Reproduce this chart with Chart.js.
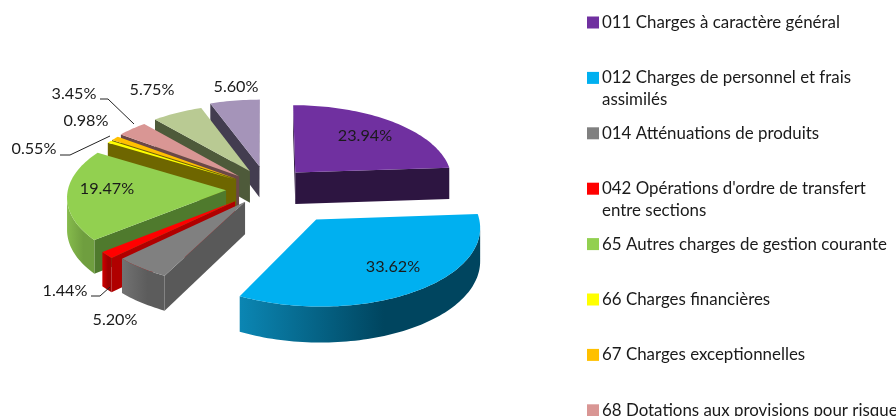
<!DOCTYPE html>
<html lang="fr">
<head>
<meta charset="utf-8">
<title>Charges</title>
<script src="https://cdn.jsdelivr.net/npm/chart.js@4"></script>
<style>
  html, body { margin: 0; padding: 0; background: #fff; overflow: hidden; }
  #wrap { position: relative; width: 896px; height: 416px; }
</style>
</head>
<body>
<div id="wrap"><canvas id="chart-charges" width="896" height="416"></canvas></div>
<script>
const categories = [
  "011 Charges à caractère général",
  "012 Charges de personnel et frais assimilés",
  "014 Atténuations de produits",
  "042 Opérations d'ordre de transfert entre sections",
  "65 Autres charges de gestion courante",
  "66 Charges financières",
  "67 Charges exceptionnelles",
  "68 Dotations aux provisions pour risques",
  "Autres charges A",
  "Autres charges B",
];
const shares = [23.94, 33.62, 5.2, 1.44, 19.47, 0.55, 0.98, 3.45, 5.75, 5.6];

// couleurs : dessus, flanc radial, bord extérieur (gauche / droite)
const topColors = ["#7030a0", "#00b0f0", "#808080", "#ff0000", "#92d050", "#ffff00", "#ffc000", "#d99694", "#b9ca93", "#a594b9"];
const sideColors = ["#2d1541", "#00465f", "#595959", "#b00000", "#4f7a2d", "#6e6600", "#6e6600", "#6b4847", "#4e5a3a", "#433d50"];
const rimLeft = ["#2d1541", "#0b86b3", "#727272", "#d00000", "#86bb4c", "#808000", "#997300", "#a07070", "#8a9a6a", "#776a88"];
const rimRight = ["#2d1541", "#00455f", "#5c5c5c", "#a00000", "#6f9e3f", "#808000", "#997300", "#a07070", "#8a9a6a", "#776a88"];

const sliceOffsets = [48, 74, 33, 38, 38, 38, 38, 40, 44, 50];
// décalage horizontal en plus de l'éclatement
const sliceShiftX = [-3, 8, -1, -2, -2, 1, 1, 2, 6, 2];

// tableau de légende : lignes coupées comme sur l'original
const legendLines = [
  ["011 Charges à caractère général"],
  ["012 Charges de personnel et frais", "assimilés"],
  ["014 Atténuations de produits"],
  ["042 Opérations d'ordre de transfert", "entre sections"],
  ["65 Autres charges de gestion courante"],
  ["66 Charges financières"],
  ["67 Charges exceptionnelles"],
  ["68 Dotations aux provisions pour risques"],
];

const LABEL_FONT = '16.2px Lato, "Open Sans", sans-serif';
const LEGEND_FONT = '16.9px Lato, "Open Sans", sans-serif';
const TILT = 0.476;
const PERSP = 0.0005;
const DEPTH = 32;

// emplacement des étiquettes [x, y] (centre du texte)
const labelSpots = [
  [365, 136], [393, 267], [115, 320], [65, 291], [107, 189],
  [34, 149], [86, 121], [74, 94], [152, 90], [236, 87],
];
const leaders = {
  3: [[91, 296], [100, 296], [110, 287]],
  5: [[60, 155], [70, 155], [110, 136]],
  7: [[100, 99], [108, 99], [134, 124]],
};

function project(cx, cy, px, py, drop) {
  const k = 1 / (1 - PERSP * py);
  return { x: cx + px * k, y: cy + py * TILT * k + drop * k };
}

function sliceGeometry(arc, i) {
  const p = arc.getProps(["x", "y", "startAngle", "endAngle", "outerRadius"], true);
  const off = arc.options.offset || 0;
  const mid = (p.startAngle + p.endAngle) / 2;
  const ox = Math.cos(mid) * off + sliceShiftX[i];
  const oy = Math.sin(mid) * off;
  const steps = Math.max(6, Math.ceil((p.endAngle - p.startAngle) * 40));
  const rimPts = [];
  for (let j = 0; j <= steps; j++) {
    const a = p.startAngle + ((p.endAngle - p.startAngle) * j) / steps;
    rimPts.push([ox + Math.cos(a) * p.outerRadius, oy + Math.sin(a) * p.outerRadius]);
  }
  return { cx: p.x, cy: p.y, ox, oy, rimPts, sortKey: oy + Math.sin(mid) * p.outerRadius * 0.6 };
}

function fillQuad(ctx, a, b, c, d, color) {
  ctx.fillStyle = color;
  ctx.beginPath();
  ctx.moveTo(a.x, a.y);
  ctx.lineTo(b.x, b.y);
  ctx.lineTo(c.x, c.y);
  ctx.lineTo(d.x, d.y);
  ctx.closePath();
  ctx.fill();
}

function drawSlice(ctx, g, i) {
  const top = (p) => project(g.cx, g.cy, p[0], p[1], 0);
  const low = (p) => project(g.cx, g.cy, p[0], p[1], DEPTH);
  const apex = [g.ox, g.oy];
  const first = g.rimPts[0];
  const last = g.rimPts[g.rimPts.length - 1];

  // flancs radiaux visibles
  if (top(first).x < top(apex).x) fillQuad(ctx, top(apex), top(first), low(first), low(apex), sideColors[i]);
  if (top(apex).x < top(last).x) fillQuad(ctx, top(last), top(apex), low(apex), low(last), sideColors[i]);

  // bord extérieur, seulement la partie tournée vers nous
  const tops = g.rimPts.map(top);
  const run = [];
  for (let j = 0; j < tops.length - 1; j++) {
    if (tops[j + 1].x < tops[j].x) {
      if (!run.length) run.push(g.rimPts[j]);
      run.push(g.rimPts[j + 1]);
    }
  }
  if (run.length > 1) {
    const xs = run.map((p) => top(p).x);
    const grad = ctx.createLinearGradient(Math.min(...xs), 0, Math.max(...xs), 0);
    grad.addColorStop(0, rimLeft[i]);
    grad.addColorStop(0.6, rimRight[i]);
    grad.addColorStop(1, rimRight[i]);
    ctx.fillStyle = grad;
    ctx.beginPath();
    run.forEach((p, j) => {
      const q = top(p);
      if (j === 0) ctx.moveTo(q.x, q.y);
      else ctx.lineTo(q.x, q.y);
    });
    run.slice().reverse().forEach((p) => {
      const q = low(p);
      ctx.lineTo(q.x, q.y);
    });
    ctx.closePath();
    ctx.fill();
  }

  // dessus
  ctx.fillStyle = topColors[i];
  ctx.beginPath();
  const a = top(apex);
  ctx.moveTo(a.x, a.y);
  tops.forEach((q) => ctx.lineTo(q.x, q.y));
  ctx.closePath();
  ctx.fill();
}

const pie3d = {
  id: "pie3d",
  beforeDatasetDraw(chart, args) {
    const ctx = chart.ctx;
    const slices = args.meta.data.map((arc, i) => ({ g: sliceGeometry(arc, i), i }));
    slices.sort((a, b) => a.g.sortKey - b.g.sortKey);
    ctx.save();
    slices.forEach((s) => drawSlice(ctx, s.g, s.i));
    ctx.restore();
    return false;
  },
  afterDraw(chart) {
    const ctx = chart.ctx;
    ctx.save();
    ctx.font = LABEL_FONT;
    ctx.fillStyle = "#1a1a1a";
    ctx.textBaseline = "middle";

    // étiquettes de valeurs
    ctx.textAlign = "center";
    shares.forEach((v, i) => {
      ctx.fillText(v.toFixed(2) + "%", labelSpots[i][0], labelSpots[i][1]);
    });

    ctx.strokeStyle = "#222";
    ctx.lineWidth = 1;
    Object.values(leaders).forEach((pts) => {
      ctx.beginPath();
      pts.forEach((p, j) => (j ? ctx.lineTo(p[0], p[1]) : ctx.moveTo(p[0], p[1])));
      ctx.stroke();
    });

    // légende
    ctx.font = LEGEND_FONT;
    ctx.textAlign = "left";
    legendLines.forEach((lines, i) => {
      const y = 22.5 + i * 55.4;
      ctx.fillStyle = topColors[i];
      ctx.fillRect(587, y - 6, 12, 12);
      ctx.fillStyle = "#1a1a1a";
      lines.forEach((line, j) => ctx.fillText(line, 602, y + j * 22));
    });
    ctx.restore();
  },
};

new Chart(document.getElementById("chart-charges"), {
  type: "pie",
  data: {
    labels: categories,
    datasets: [
      {
        data: shares,
        backgroundColor: topColors,
        offset: sliceOffsets,
        borderWidth: 0,
        radius: 158,
      },
    ],
  },
  options: {
    responsive: false,
    animation: false,
    layout: { padding: { right: 364, bottom: 38 } },
    plugins: { legend: { display: false }, tooltip: { enabled: false } },
  },
  plugins: [pie3d],
});
</script>
</body>
</html>
